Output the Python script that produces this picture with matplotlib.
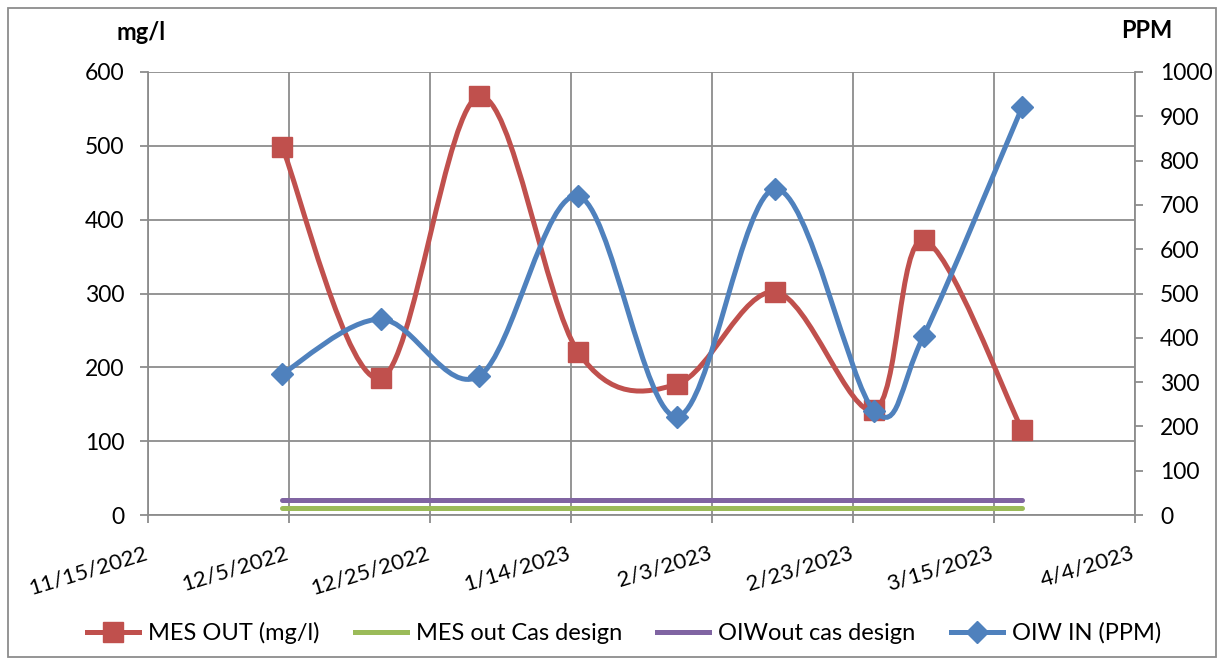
import datetime as dt
import matplotlib
matplotlib.use("Agg")
import matplotlib.pyplot as plt
import matplotlib.dates as mdates
import matplotlib.transforms as mtransforms
from matplotlib.path import Path
from matplotlib.patches import PathPatch, Rectangle
from matplotlib.lines import Line2D
from matplotlib.ticker import FuncFormatter, MultipleLocator

plt.rcParams['font.family'] = ['Lato', 'DejaVu Sans']

# ---------------- data ----------------
dates = ["2022-12-04", "2022-12-18", "2023-01-01", "2023-01-15", "2023-01-29",
         "2023-02-12", "2023-02-26", "2023-03-05", "2023-03-19"]
mes_out = [499, 185, 567, 221, 177, 302, 142, 372, 115]          # mg/l (left)
mes_design = [10, 10, 10, 10, 10, 10, 10, 10, 10]                # mg/l (left)
oiw_design = [20, 20, 20, 20, 20, 20, 20, 20, 20]                # mg/l (left)
oiw_in = [318, 442, 314, 720, 222, 736, 235, 404, 921]           # PPM (right)

labels = ["MES OUT (mg/l)", "MES out Cas design", "OIWout cas design", "OIW IN (PPM)"]
x_start, x_end = "2022-11-15", "2023-04-04"

RED, GREEN, PURPLE, BLUE = "#C0504D", "#9BBB59", "#8064A2", "#4F81BD"
GRID = "#8C8C8C"
FS = 16.5

d = [dt.datetime.fromisoformat(s) for s in dates]
xn = mdates.date2num(d)


def smooth_path(xs, ys):
    """Catmull-Rom style Bezier path through the points (Excel-like smoothing)."""
    n = len(xs)
    verts = [(xs[0], ys[0])]
    codes = [Path.MOVETO]
    for i in range(n - 1):
        p0 = (xs[max(i - 1, 0)], ys[max(i - 1, 0)])
        p1 = (xs[i], ys[i])
        p2 = (xs[i + 1], ys[i + 1])
        p3 = (xs[min(i + 2, n - 1)], ys[min(i + 2, n - 1)])
        c1 = (p1[0] + (p2[0] - p0[0]) / 6, p1[1] + (p2[1] - p0[1]) / 6)
        c2 = (p2[0] - (p3[0] - p1[0]) / 6, p2[1] - (p3[1] - p1[1]) / 6)
        verts += [c1, c2, p2]
        codes += [Path.CURVE4] * 3
    return Path(verts, codes)


fig = plt.figure(figsize=(12.2, 6.62), dpi=100)
ax = fig.add_axes([148 / 1220, 1 - 515 / 662, (1135 - 148) / 1220, (515 - 72) / 662])
ax2 = ax.twinx()

# left axis series
ax.plot(d, mes_design, color=GREEN, lw=3.6, solid_capstyle='round', zorder=3)
ax.plot(d, oiw_design, color=PURPLE, lw=3.6, solid_capstyle='round', zorder=3)
ax.add_patch(PathPatch(smooth_path(xn, mes_out), facecolor='none', edgecolor=RED,
                       lw=3.6, zorder=4))
ax.plot(d, mes_out, ls='none', marker='s', ms=14, color=RED, zorder=5)

# right axis series
ax2.add_patch(PathPatch(smooth_path(xn, oiw_in), facecolor='none', edgecolor=BLUE,
                        lw=3.6, zorder=4))
ax2.plot(d, oiw_in, ls='none', marker='D', ms=11, color=BLUE, zorder=5)

# axes limits/ticks
ax.set_xlim(dt.datetime.fromisoformat(x_start), dt.datetime.fromisoformat(x_end))
ax.set_xticks([dt.datetime.fromisoformat(x_start) + dt.timedelta(days=20 * k) for k in range(8)])
ax.xaxis.set_major_formatter(FuncFormatter(
    lambda v, p: (lambda t: f"{t.month}/{t.day}/{t.year}")(mdates.num2date(v))))
ax.set_ylim(0, 600)
ax.yaxis.set_major_locator(MultipleLocator(100))
ax2.set_ylim(0, 1000)
ax2.yaxis.set_major_locator(MultipleLocator(100))

ax.grid(True, color=GRID, lw=1.3)
ax.set_axisbelow(True)
for a in (ax, ax2):
    for s in a.spines.values():
        s.set_visible(False)
ax.spines['left'].set_visible(True)
ax.spines['bottom'].set_visible(True)
ax2.spines['right'].set_visible(True)
for s in (ax.spines['left'], ax.spines['bottom'], ax2.spines['right']):
    s.set_color(GRID)
    s.set_linewidth(1.3)

ax.tick_params(axis='y', length=6, width=1.3, color=GRID, labelsize=FS, pad=11)
ax.tick_params(axis='x', length=6, width=1.3, color=GRID, labelsize=16, pad=14)
ax2.tick_params(axis='y', length=6, width=1.3, color=GRID, labelsize=FS, pad=12)
shift = mtransforms.ScaledTranslation(-4 / 100, 0, fig.dpi_scale_trans)
for lab in ax.get_xticklabels():
    lab.set_rotation(17)
    lab.set_ha('right')
    lab.set_va('top')
    lab.set_rotation_mode('anchor')
    lab.set_transform(lab.get_transform() + shift)

# axis titles
fig.text(141 / 1220, 1 - 32 / 662, "mg/l", ha='center', va='center',
         fontsize=17, fontweight='bold')
fig.text(1147 / 1220, 1 - 30 / 662, "PPM", ha='center', va='center',
         fontsize=17, fontweight='bold')

# legend
handles = [
    Line2D([], [], color=RED, lw=3.6, marker='s', ms=14),
    Line2D([], [], color=GREEN, lw=3.6),
    Line2D([], [], color=PURPLE, lw=3.6),
    Line2D([], [], color=BLUE, lw=3.6, marker='D', ms=11),
]
fig.legend(handles, labels, loc='center', bbox_to_anchor=(624 / 1220, 1 - 633 / 662),
           ncol=4, frameon=False, fontsize=17, handlelength=2.2, handletextpad=0.38,
           columnspacing=1.5)

# outer border
fig.add_artist(Rectangle((8 / 1220, 1 - 657 / 662), (1216 - 8) / 1220, (657 - 8) / 662,
                         transform=fig.transFigure, fill=False, edgecolor=GRID, lw=1.3))

fig.savefig("out.png", dpi=100)
